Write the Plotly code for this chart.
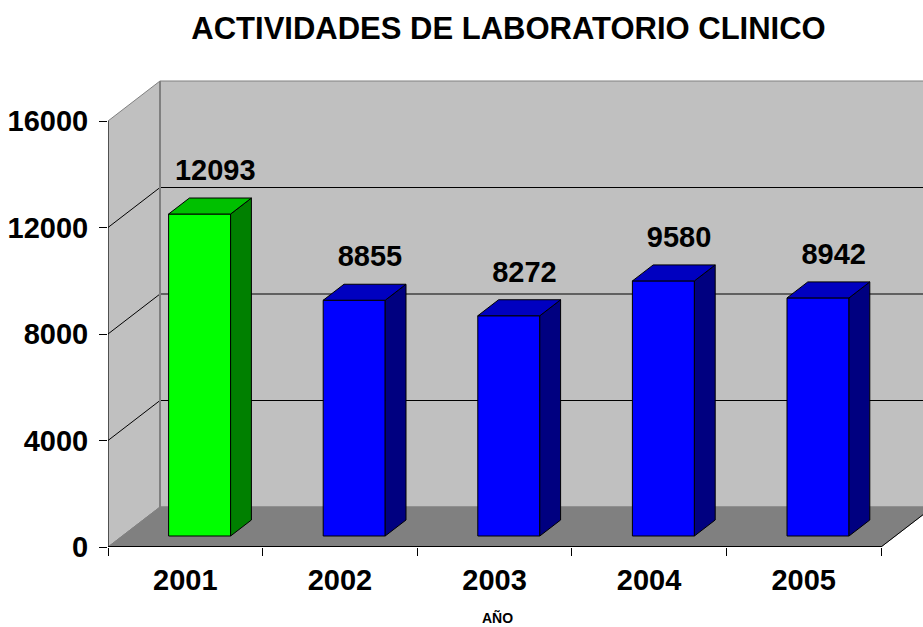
import plotly.graph_objects as go

# ---- data ----
years = ["2001", "2002", "2003", "2004", "2005"]
values = [12093, 8855, 8272, 9580, 8942]
front_colors = ["#00FF00", "#0000FF", "#0000FF", "#0000FF", "#0000FF"]
side_colors = ["#008000", "#000080", "#000080", "#000080", "#000080"]
top_colors = ["#00C000", "#0000C0", "#0000C0", "#0000C0", "#0000C0"]
y_ticks = [0, 4000, 8000, 12000, 16000]
y_tick_text = ["0", "4000", "8000", "12000", "16000"]
y_max = 16000

# ---- geometry (pixel layout) ----
W, H = 923, 627
PL, PB, PT = 108, 547, 60           # plot area left/bottom/top in px
CAT_PX = 154.6                      # px per category
VAL_PX = 426 / 16000                # px per value unit
DEP_X_PX, DEP_Y_PX = 52, 40         # depth offset in px

x_hi = (W - PL) / CAT_PX
y_hi = (PB - PT) / VAL_PX
dxd = DEP_X_PX / CAT_PX
dyd = DEP_Y_PX / VAL_PX
f0, f1 = 0.275, 0.675
bw = 0.401
n = len(years)

fig = go.Figure()

# walls and floor
shapes = []
shapes.append(dict(type="rect", xref="x", yref="y", x0=dxd, x1=n + dxd, y0=dyd, y1=y_max + dyd,
                   fillcolor="#C0C0C0", line=dict(color="#808080", width=1), layer="below"))
shapes.append(dict(type="path", xref="x", yref="y",
                   path=f"M 0,0 L 0,{y_max} L {dxd},{y_max + dyd} L {dxd},{dyd} Z",
                   fillcolor="#C0C0C0", line=dict(color="#808080", width=1), layer="below"))
shapes.append(dict(type="path", xref="x", yref="y",
                   path=f"M 0,0 L {n},0 L {n + dxd},{dyd} L {dxd},{dyd} Z",
                   fillcolor="#808080", line=dict(color="#808080", width=1), layer="below"))
for v in y_ticks[1:-1]:
    shapes.append(dict(type="line", xref="x", yref="y", x0=dxd, x1=n + dxd, y0=v + dyd, y1=v + dyd,
                       line=dict(color="black", width=1), layer="below"))
    shapes.append(dict(type="line", xref="x", yref="y", x0=0, x1=dxd, y0=v, y1=v + dyd,
                       line=dict(color="black", width=1), layer="below"))
shapes.append(dict(type="line", xref="x", yref="y", x0=dxd, x1=dxd, y0=dyd, y1=y_max + dyd,
                   line=dict(color="#808080", width=2), layer="below"))
shapes.append(dict(type="line", xref="x", yref="y", x0=0, x1=0, y0=0, y1=y_max,
                   line=dict(color="black", width=1), layer="below"))
shapes.append(dict(type="line", xref="x", yref="y", x0=n, x1=n + dxd, y0=0, y1=dyd,
                   line=dict(color="black", width=1), layer="below"))
shapes.append(dict(type="line", xref="x", yref="y", x0=0, x1=n, y0=0, y1=0,
                   line=dict(color="black", width=2), layer="below"))

# bars
base = f0 * dyd
ddx = (f1 - f0) * dxd
ddy = (f1 - f0) * dyd
for i, (yr, v) in enumerate(zip(years, values)):
    cx = i + 0.5 + f0 * dxd
    xl, xr = cx - bw / 2, cx + bw / 2
    top = base + v
    faces = [
        ([xl, xr, xr, xl, xl], [base, base, top, top, base], front_colors[i]),
        ([xr, xr + ddx, xr + ddx, xr, xr], [base, base + ddy, top + ddy, top, base], side_colors[i]),
        ([xl, xr, xr + ddx, xl + ddx, xl], [top, top, top + ddy, top + ddy, top], top_colors[i]),
    ]
    for fx, fy, col in faces:
        fig.add_trace(go.Scatter(x=fx, y=fy, mode="lines", fill="toself", fillcolor=col,
                                 line=dict(color="black", width=1), hoverinfo="skip",
                                 showlegend=False))

# value labels
lab_off = 41 / VAL_PX
fig.add_trace(go.Scatter(
    x=[i + 0.5 + 0.194 for i in range(n)],
    y=[base + v + lab_off for v in values],
    mode="text", text=[str(v) for v in values], textposition="middle center",
    textfont=dict(family="Liberation Sans, Arial", size=29, color="black", weight="bold"),
    showlegend=False, hoverinfo="skip"))

fig.update_layout(
    width=W, height=H,
    margin=dict(l=PL, r=0, t=PT, b=H - PB, pad=0),
    paper_bgcolor="white", plot_bgcolor="white",
    shapes=shapes,
    title=dict(text="ACTIVIDADES DE LABORATORIO CLINICO", x=508.5 / W, xanchor="center",
               xref="container", yref="container", y=1 - 28 / H, yanchor="middle",
               font=dict(family="Liberation Sans, Arial", size=31, color="black", weight="bold")),
    xaxis=dict(range=[0, x_hi], showgrid=False, zeroline=False, showline=False,
               tickmode="array", tickvals=[i + 0.5 for i in range(n)], ticktext=years,
               ticks="", ticklabelstandoff=13,
               tickfont=dict(family="Liberation Sans, Arial", size=29, color="black", weight="bold"),
               minor=dict(tickmode="array", tickvals=list(range(n + 1)), ticks="outside",
                          ticklen=8, tickcolor="black", tickwidth=1, showgrid=False)),
    yaxis=dict(range=[0, y_hi], showgrid=False, zeroline=False, showline=False,
               tickmode="array", tickvals=y_ticks, ticktext=y_tick_text,
               ticks="outside", ticklen=8,
               tickcolor="black", tickwidth=1, ticklabelstandoff=5,
               tickfont=dict(family="Liberation Sans, Arial", size=29, color="black", weight="bold")),
    annotations=[dict(text="AÑO", xref="x", yref="paper", x=2.52, y=-(617 - PB) / (PB - PT),
                      xanchor="center", yanchor="middle", showarrow=False,
                      font=dict(family="Liberation Sans, Arial", size=14, color="black", weight="bold"))],
)

fig.write_html("out.html", config={"displayModeBar": False},
               post_script="document.body.style.margin='0';document.body.style.padding='0';")
